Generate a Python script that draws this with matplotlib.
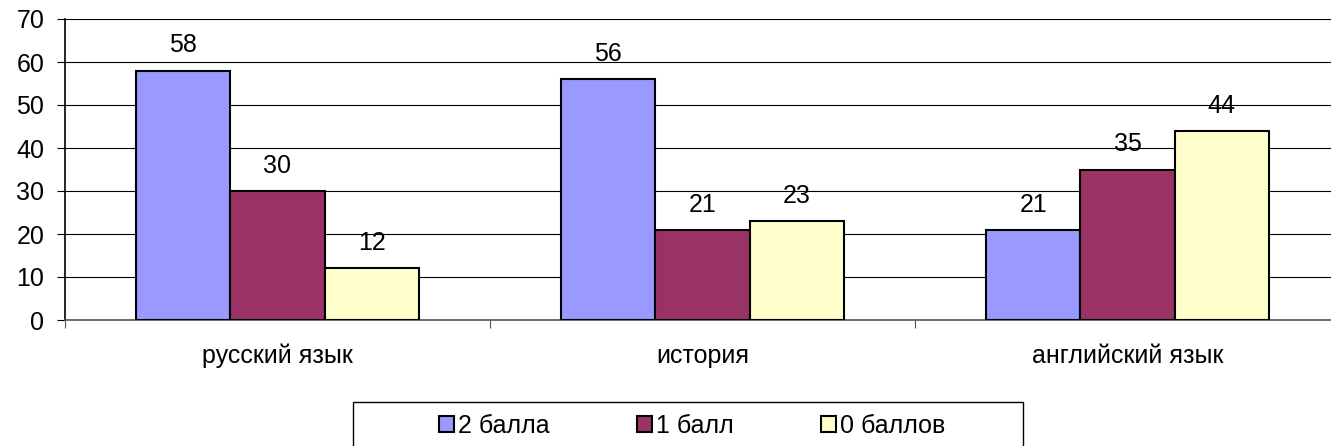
import numpy as np
import matplotlib
matplotlib.use("Agg")
import matplotlib.pyplot as plt
from matplotlib.patches import Rectangle

plt.rcParams['font.family'] = ['Liberation Sans', 'DejaVu Sans']

categories = ['русский язык', 'история', 'английский язык']
series_names = ['2 балла', '1 балл', '0 баллов']
values_2 = [58, 56, 21]
values_1 = [30, 21, 35]
values_0 = [12, 23, 44]
colors = ['#9999FF', '#993366', '#FFFFCC']

W, H = 1331, 446
fs = 18
fig = plt.figure(figsize=(W / 100, H / 100), dpi=100)
ax = fig.add_axes([65 / W, (H - 320) / H, 1275 / W, 301 / H])

x = np.arange(len(categories)) + 0.5
bw = 0.222
for i, (vals, c, name) in enumerate(zip([values_2, values_1, values_0], colors, series_names)):
    pos = x + (i - 1) * bw
    bars = ax.bar(pos, vals, width=bw, color=c, edgecolor='black', linewidth=1.5,
                  label=name, zorder=3)
    for b, v in zip(bars, vals):
        ax.annotate(str(v), (b.get_x() + b.get_width() / 2, v), xytext=(0, 9.5),
                    textcoords='offset points', ha='center', va='bottom', fontsize=fs)

ax.set_xlim(0, 3)
ax.set_ylim(0, 70)
ax.set_yticks(range(0, 71, 10))
ax.yaxis.grid(True, color='black', linewidth=0.8, zorder=0)
ax.set_axisbelow(True)

ax.set_xticks([0, 1, 2, 3])
ax.set_xticklabels([])
ax.set_xticks(x, minor=True)
ax.set_xticklabels(categories, minor=True, fontsize=fs)
ax.tick_params(axis='x', which='major', length=6, direction='out', color='#555555')
ax.tick_params(axis='x', which='minor', length=0, pad=17)
ax.tick_params(axis='y', length=6, pad=9, labelsize=fs)

ax.spines['top'].set_visible(False)
ax.spines['right'].set_visible(False)
ax.spines['left'].set_linewidth(1.2)
ax.spines['bottom'].set_color('#555555')
ax.spines['bottom'].set_linewidth(1.2)

# legend frame
fig.patches.append(Rectangle((353 / W, -0.05), 670 / W, (H - 402) / H + 0.05,
                             transform=fig.transFigure, fill=False,
                             edgecolor='black', linewidth=1.0))
handles, labels = ax.get_legend_handles_labels()
fig.legend(handles, labels, loc='center left', bbox_to_anchor=(439 / W, (H - 426) / H),
           ncol=3, frameon=False, fontsize=fs, handlelength=0.6, handleheight=0.6,
           handletextpad=0.15, columnspacing=3.5, borderaxespad=0, borderpad=0)

fig.savefig('out.png', dpi=100)
